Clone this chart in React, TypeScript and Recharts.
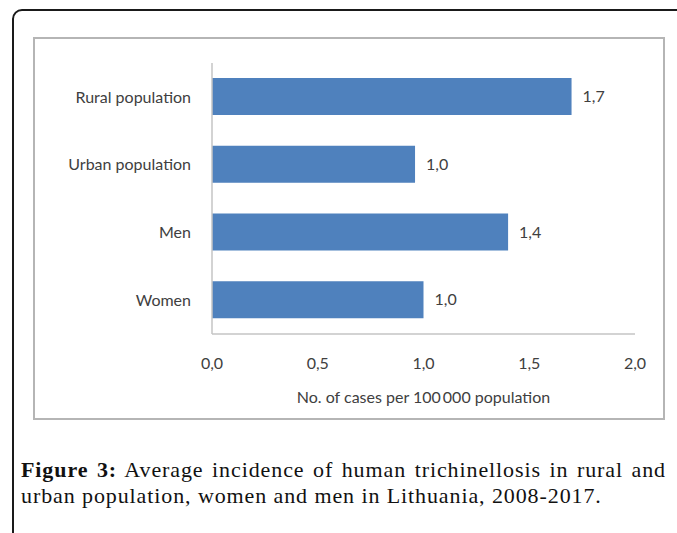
import { BarChart, Bar, XAxis, YAxis, LabelList } from 'recharts';

const categories = ['Rural population', 'Urban population', 'Men', 'Women'];
const incidence = [1.7, 0.96, 1.4, 1.0];
const xTicks = [0, 0.5, 1, 1.5, 2];

const data = categories.map((name, i) => ({ name, value: incidence[i] }));

// decimal comma, one digit
const fmt = (v: number) => Number(v).toFixed(1).replace('.', ',');

const labelFont = 'Lato, "Open Sans", sans-serif';

export default function App() {
  return (
    <div style={{ position: 'absolute', left: 0, top: 0, width: 677, height: 533, overflow: 'hidden', background: '#fff' }}>
      {/* figure frame */}
      <div
        style={{
          position: 'absolute',
          left: 12,
          top: 9,
          width: 700,
          height: 560,
          border: '2px solid #1a1a1a',
          borderTopLeftRadius: 10,
          boxSizing: 'border-box',
        }}
      />
      {/* chart area box */}
      <div
        style={{
          position: 'absolute',
          left: 33,
          top: 37,
          width: 632,
          height: 383,
          border: '2px solid #b5b5b5',
          boxSizing: 'border-box',
          background: '#fff',
        }}
      >
        <BarChart
          width={628}
          height={379}
          data={data}
          layout="vertical"
          margin={{ top: 24, right: 28, bottom: 0, left: 0 }}
        >
          <XAxis
            type="number"
            domain={[0, 2]}
            ticks={xTicks}
            tickFormatter={fmt}
            axisLine={{ stroke: '#c4c4c4', strokeWidth: 1.5 }}
            tickLine={false}
            tickMargin={18}
            height={84}
            tick={{ fill: '#404040', fontSize: 16, fontFamily: labelFont }}
            label={{
              value: 'No. of cases per 100\u2009000 population',
              position: 'insideBottom',
              offset: 15,
              fill: '#404040',
              fontSize: 16,
              fontFamily: labelFont,
            }}
          />
          <YAxis
            type="category"
            dataKey="name"
            width={177}
            axisLine={{ stroke: '#c4c4c4', strokeWidth: 1.5 }}
            tickLine={false}
            tickMargin={15}
            tick={{ fill: '#404040', fontSize: 16, fontFamily: labelFont }}
          />
          <Bar dataKey="value" fill="#4f81bd" barSize={37} isAnimationActive={false}>
            <LabelList
              dataKey="value"
              position="right"
              offset={11}
              formatter={fmt}
              fill="#404040"
              fontSize={16}
              fontFamily={labelFont}
            />
          </Bar>
        </BarChart>
      </div>
      {/* caption */}
      <div
        style={{
          position: 'absolute',
          left: 21,
          top: 457,
          width: 645,
          fontFamily: '"Liberation Serif", serif',
          fontSize: 22,
          lineHeight: '26px',
          letterSpacing: 0.9,
          color: '#111',
        }}
      >
        <div style={{ textAlign: 'justify', textAlignLast: 'justify' }}>
          <b>Figure 3:</b> Average incidence of human trichinellosis in rural and
        </div>
        <div>urban population, women and men in Lithuania, 2008-2017.</div>
      </div>
    </div>
  );
}
